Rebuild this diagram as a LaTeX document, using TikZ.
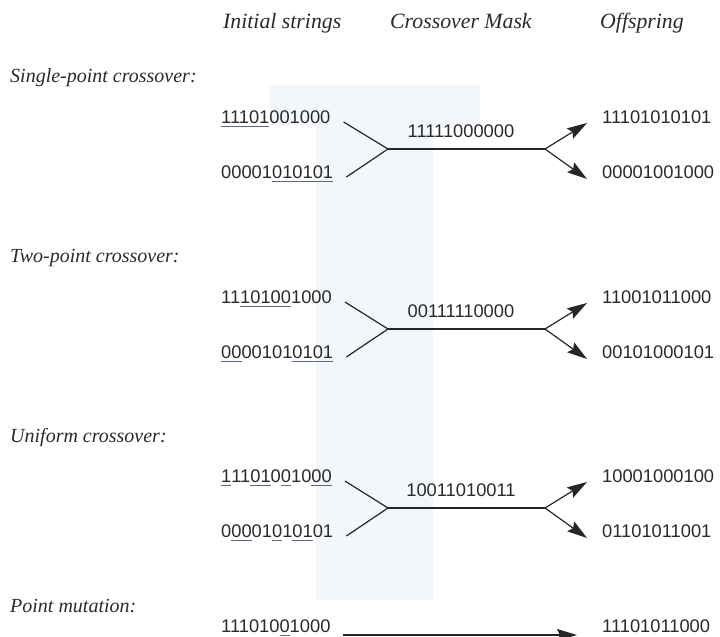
\documentclass[tikz,border=0pt]{standalone}
\usepackage{fontspec}
\setmainfont{Liberation Serif}
\newfontfamily\bitfont{Liberation Sans}
\usetikzlibrary{arrows.meta}
\definecolor{ulc}{HTML}{5A6A80}
\definecolor{txt}{HTML}{2A2A2A}
\definecolor{band}{HTML}{F3F7FC}
\newsavebox\ulbox
\newcommand\ulx[1]{\sbox\ulbox{#1}\rlap{\color{ulc}\rule[-4pt]{\wd\ulbox}{1pt}}\usebox\ulbox}
\tikzset{
  lbl/.style={font=\fontsize{20}{24}\selectfont\itshape, text=txt, anchor=base west, inner sep=0pt},
  hdr/.style={font=\fontsize{21.8}{26}\selectfont\itshape, text=txt, anchor=base west, inner sep=0pt},
  bits/.style={font=\bitfont\fontsize{18.3}{22}\selectfont, text=txt, anchor=base west, inner sep=0pt},
  mask/.style={font=\bitfont\fontsize{18.3}{22}\selectfont, text=txt, anchor=base, inner sep=0pt},
  conn/.style={line width=1.2pt, draw=black!85},
  arr/.style={conn, -{Stealth[length=20pt,width=12pt,inset=3pt]}},
}
\begin{document}
\begin{tikzpicture}[x=1pt,y=-1pt]
\useasboundingbox (0,0) rectangle (720,637);
% faint background band
\fill[band] (270,85) -- (480,85) -- (480,125) -- (433,125) -- (433,600) -- (316,600) -- (316,125) -- (270,125) -- cycle;
% headers
\node[hdr] (h1) at (223,28) {Initial strings};
\node[hdr] (h2) at (390,28) {Crossover Mask};
\node[hdr] (h3) at (600,28) {Offspring};
% section labels
\node[lbl] (l1) at (10,82) {Single-point crossover:};
\node[lbl] (l2) at (10,262) {Two-point crossover:};
\node[lbl] (l3) at (10,442) {Uniform crossover:};
\node[lbl] (l4) at (10,612) {Point mutation:};
% sections
\foreach \i/\dy/\ta/\tb/\m/\oa/\ob in {
  1/0/{\ulx{11101}001000}/{00001\ulx{010101}}/11111000000/11101010101/00001001000,
  2/180/{11\ulx{10100}1000}/{\ulx{00}00101\ulx{0101}}/00111110000/11001011000/00101000101,
  3/359/{\ulx{1}11\ulx{01}0\ulx{0}10\ulx{00}}/{0\ulx{00}01\ulx{0}1\ulx{01}01}/10011010011/10001000100/01101011001}{
  \node[bits] (ta\i) at (221,123+\dy) {\ta};
  \node[bits] (tb\i) at (221,178+\dy) {\tb};
  \node[mask] (m\i) at (461,137+\dy) {\m};
  \node[bits] (oa\i) at (602,123+\dy) {\oa};
  \node[bits] (ob\i) at (602,178+\dy) {\ob};
  \coordinate (sa\i) at ([xshift=13pt,yshift=1pt]ta\i.base east);
  \coordinate (sb\i) at ([xshift=13pt,yshift=1pt]tb\i.base east);
  \coordinate (fl\i) at (388,149+\dy);
  \coordinate (fr\i) at (545,149+\dy);
  \coordinate (ea\i) at ([xshift=-15pt]oa\i.base west);
  \coordinate (eb\i) at ([xshift=-15pt,yshift=-1pt]ob\i.base west);
  \draw[conn] (sa\i) -- (fl\i) -- (sb\i);
  \draw[conn] (fl\i) -- (fr\i);
  \draw[arr] (fr\i) -- (ea\i);
  \draw[arr] (fr\i) -- (eb\i);
}
% point mutation
\node[bits] (pm) at (221,632) {111010\ulx{0}1000};
\node[bits] (po) at (602,632) {11101011000};
\coordinate (ps) at ([xshift=12pt,yshift=-3pt]pm.base east);
\coordinate (pe) at ([xshift=-25pt,yshift=-3pt]po.base west);
\draw[arr] (ps) -- (pe);
\end{tikzpicture}
\end{document}
